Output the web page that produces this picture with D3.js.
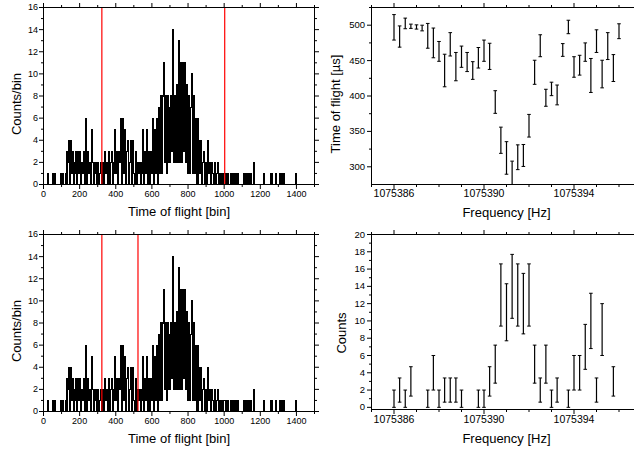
<!DOCTYPE html>
<html>
<head>
<meta charset="utf-8">
<script src="https://cdn.jsdelivr.net/npm/d3@7"></script>
<style>
body { margin: 0; background: #fff; }
svg { display: block; font-family: "Liberation Sans", Arial, sans-serif; }
</style>
</head>
<body>
<div id="chart"></div>
<script>
// ---- histogram (time of flight, counts per bin, 5-bin groups from 0 to 1500)
const binWidth = 5;
const histCounts = [
  0,0,0,0,0,1,0,0,0,0,1,0,1,0,0,0,0,0,0,1,
  0,1,0,0,1,3,0,2,4,0,4,1,3,0,2,1,3,0,3,1,
  3,0,2,1,3,0,6,2,0,3,1,2,0,5,2,0,2,1,2,0,
  2,0,1,2,0,2,1,0,3,1,2,0,3,0,2,3,0,2,1,5,
  1,3,0,3,2,6,0,3,6,1,5,0,3,4,0,2,4,0,3,4,
  1,0,3,0,2,1,2,0,2,1,5,0,3,1,5,0,3,0,3,1,
  1,6,0,5,1,6,0,7,1,6,8,1,8,11,2,8,1,8,2,7,
  2,8,3,14,2,8,2,9,2,8,13,2,11,2,11,3,11,2,9,2,
  1,8,1,7,10,1,8,1,6,0,6,0,4,1,4,0,2,3,0,2,
  2,0,4,1,2,0,2,1,0,2,1,0,1,2,0,1,0,1,0,1,
  1,0,1,0,1,0,0,1,0,1,0,1,0,1,0,1,0,0,0,0,
  0,1,0,1,0,1,0,1,0,1,0,0,0,2,0,0,0,0,0,0,
  0,0,0,0,1,0,0,0,0,0,0,1,0,1,0,0,0,1,0,0,
  0,1,0,0,1,0,1,0,0,0,0,0,0,0,0,0,0,0,0,1,
  0,0,0,0,0,0,0,0,0,0,0,0,0,0,0,0,0,0,0,0
];
const gatesTop = [323, 1003];
const gatesBottom = [323, 523];
const histXTicks = [0, 200, 400, 600, 800, 1000, 1200, 1400];
const histXMinor = [100, 300, 500, 700, 900, 1100, 1300, 1500];
const histYTicks = [0, 2, 4, 6, 8, 10, 12, 14, 16];
const histYMinor = [1, 3, 5, 7, 9, 11, 13, 15];

// ---- frequency scan
const freqs = [
  1075386, 1075386.25, 1075386.5, 1075386.75, 1075387, 1075387.25, 1075387.5, 1075387.75,
  1075388, 1075388.25, 1075388.5, 1075388.75, 1075389, 1075389.25, 1075389.5, 1075389.75,
  1075390, 1075390.25, 1075390.5, 1075390.75, 1075391, 1075391.25, 1075391.5, 1075391.75,
  1075392, 1075392.25, 1075392.5, 1075392.75, 1075393, 1075393.25, 1075393.5, 1075393.75,
  1075394, 1075394.25, 1075394.5, 1075394.75, 1075395, 1075395.25, 1075395.5, 1075395.75,
  1075396
];
const tofMean = [
  497, 484, 502.5, 498.5, 497.5, 496, 485, 475, 463, 436, 473, 441.5, 455.5, 448, 436, 454,
  464, 456, 391.5, 337.5, 312.5, 291, 313.5, 316, 358, 433.5, 471, 397.5, 410, 401.5, 465, 497.5,
  441, 443.5, 462, 429, 477.5, 431, 470.5, 439.5, 491.5
];
const tofErr = [
  18, 15, 7.5, 3, 3, 4, 17.5, 21, 14, 23, 16.5, 20, 15, 13.5, 12.5, 14.5,
  15, 18.5, 16, 18.5, 23, 17, 17.5, 15.5, 16, 17, 15.5, 12, 9.5, 14, 9, 9.5,
  14.5, 14, 13, 24, 16, 19.5, 19, 19, 10.5
];
const counts = [
  1, 2, 1, 3, null, null, 1, 4, 1, 2, 2, 2, 1, null, null, 1,
  1, 3, 5, 13, 11, 14, 13, 12, 13, 5, 2, 5, 1, 2, null, 1,
  4, 4, 7, 10, 2, 9, null, 3, null
];
const countErr = [
  1, 1.4, 1, 1.7, null, null, 1, 2, 1, 1.4, 1.4, 1.4, 1, null, null, 1,
  1, 1.7, 2.2, 3.6, 3.3, 3.7, 3.6, 3.5, 3.6, 2.2, 1.4, 2.2, 1, 1.4, null, 1,
  2, 2, 2.6, 3.2, 1.4, 3, null, 1.7, null
];
const freqTicks = [1075386, 1075390, 1075394];
const freqMinor = [1075385, 1075387, 1075388, 1075389, 1075391, 1075392, 1075393, 1075395, 1075396, 1075397];
const tofTicks = [300, 350, 400, 450, 500];
const tofMinor = [325, 375, 425, 475, 525];
const countTicks = [0, 2, 4, 6, 8, 10, 12, 14, 16, 18, 20];
const countMinor = [1, 3, 5, 7, 9, 11, 13, 15, 17, 19];

const svg = d3.select("#chart").append("svg")
  .attr("width", 634)
  .attr("height", 451);

let clipId = 0;

function panel(p) {
  const x = d3.scaleLinear().domain(p.xDomain).range([p.left, p.right]);
  const y = d3.scaleLinear().domain(p.yDomain).range([p.bottom, p.top]);
  const g = svg.append("g");

  const id = "clip" + (clipId++);
  g.append("clipPath").attr("id", id).append("rect")
    .attr("x", p.left).attr("y", p.top)
    .attr("width", p.right - p.left + 1).attr("height", p.bottom - p.top + 1);

  const marks = g.append("g")
    .attr("clip-path", `url(#${id})`)
    .append("g").attr("transform", "translate(0.5,0.5)");

  p.draw(marks, x, y);

  // frame
  g.append("rect")
    .attr("x", p.left + 0.5).attr("y", p.top + 0.5)
    .attr("width", p.right - p.left).attr("height", p.bottom - p.top)
    .attr("fill", "none").attr("stroke", "#000").attr("stroke-width", 1);

  const styleAxis = (sel, size) => {
    sel.select(".domain").remove();
    sel.selectAll("line").attr("stroke", "#000");
    sel.selectAll("text").attr("fill", "#000").style("font-size", size + "px");
  };

  // bottom
  g.append("g").attr("transform", `translate(0,${p.bottom + 1})`)
    .call(d3.axisBottom(x).tickValues(p.xTicks).tickSize(4).tickPadding(p.xPad).tickFormat(d3.format("d")))
    .call(s => styleAxis(s, p.xFont));
  g.append("g").attr("transform", `translate(0,${p.bottom + 1})`)
    .call(d3.axisBottom(x).tickValues(p.xMinor).tickSize(2).tickFormat(""))
    .call(s => styleAxis(s, p.xFont));
  // top
  g.append("g").attr("transform", `translate(0,${p.top})`)
    .call(d3.axisTop(x).tickValues(p.xTicks).tickSize(4).tickFormat(""))
    .call(s => styleAxis(s, p.xFont));
  g.append("g").attr("transform", `translate(0,${p.top})`)
    .call(d3.axisTop(x).tickValues(p.xMinor).tickSize(2).tickFormat(""))
    .call(s => styleAxis(s, p.xFont));
  // left
  g.append("g").attr("transform", `translate(${p.left},0)`)
    .call(d3.axisLeft(y).tickValues(p.yTicks).tickSize(4).tickPadding(p.yPad).tickFormat(d3.format("d")))
    .call(s => styleAxis(s, p.yFont));
  g.append("g").attr("transform", `translate(${p.left},0)`)
    .call(d3.axisLeft(y).tickValues(p.yMinor).tickSize(2).tickFormat(""))
    .call(s => styleAxis(s, p.yFont));
  // right
  g.append("g").attr("transform", `translate(${p.right + 1},0)`)
    .call(d3.axisRight(y).tickValues(p.yTicks).tickSize(4).tickFormat(""))
    .call(s => styleAxis(s, p.yFont));
  g.append("g").attr("transform", `translate(${p.right + 1},0)`)
    .call(d3.axisRight(y).tickValues(p.yMinor).tickSize(2).tickFormat(""))
    .call(s => styleAxis(s, p.yFont));

  // titles
  g.append("text")
    .attr("x", (p.left + p.right) / 2 + 0.5).attr("y", p.xTitleY)
    .attr("text-anchor", "middle").style("font-size", "13px")
    .text(p.xTitle);
  g.append("text")
    .attr("transform", `translate(${p.yTitleX},${p.yTitleY}) rotate(-90)`)
    .attr("text-anchor", "middle").style("font-size", "13px")
    .text(p.yTitle);
}

function drawHist(gates) {
  return (g, x, y) => {
    const pts = histCounts.map((c, i) => [i * binWidth, c]);
    pts.push([histCounts.length * binWidth, histCounts[histCounts.length - 1]]);
    const line = d3.line().x(d => x(d[0])).y(d => y(d[1])).curve(d3.curveStepAfter);
    g.append("path").attr("d", line(pts))
      .attr("fill", "none").attr("stroke", "#000").attr("stroke-width", 1.1)
      .attr("shape-rendering", "crispEdges");
    g.selectAll(".gate").data(gates).enter().append("line")
      .attr("x1", d => x(d)).attr("x2", d => x(d))
      .attr("y1", y.range()[0]).attr("y2", y.range()[1])
      .attr("stroke", "#ff0000").attr("stroke-width", 1.2);
  };
}

function drawErr(means, errs) {
  return (g, x, y) => {
    const data = freqs.map((f, i) => ({ f, m: means[i], e: errs[i] })).filter(d => d.m != null);
    const cap = 1.8;
    const bars = g.selectAll(".eb").data(data).enter().append("g");
    bars.append("line")
      .attr("x1", d => x(d.f)).attr("x2", d => x(d.f))
      .attr("y1", d => y(d.m - d.e)).attr("y2", d => y(d.m + d.e))
      .attr("stroke", "#000").attr("stroke-width", 1.2);
    bars.append("line")
      .attr("x1", d => x(d.f) - cap).attr("x2", d => x(d.f) + cap)
      .attr("y1", d => y(d.m + d.e)).attr("y2", d => y(d.m + d.e))
      .attr("stroke", "#000").attr("stroke-width", 1);
    bars.append("line")
      .attr("x1", d => x(d.f) - cap).attr("x2", d => x(d.f) + cap)
      .attr("y1", d => y(d.m - d.e)).attr("y2", d => y(d.m - d.e))
      .attr("stroke", "#000").attr("stroke-width", 1);
  };
}

const histBase = {
  xDomain: [0, 1500], yDomain: [0, 16], left: 43, right: 314,
  xTicks: histXTicks, xMinor: histXMinor, yTicks: histYTicks, yMinor: histYMinor,
  xFont: 9, yFont: 9, xPad: 2, yPad: 1,
  xTitle: "Time of flight [bin]", yTitle: "Counts/bin", yTitleX: 21
};

panel(Object.assign({}, histBase, {
  top: 7, bottom: 184, xTitleY: 216, yTitleY: 104, draw: drawHist(gatesTop)
}));
panel(Object.assign({}, histBase, {
  top: 234, bottom: 411, xTitleY: 443, yTitleY: 331, draw: drawHist(gatesBottom)
}));

panel({
  xDomain: [1075385, 1075397], yDomain: [275, 525], left: 371, right: 641, top: 7, bottom: 184,
  xTicks: freqTicks, xMinor: freqMinor, yTicks: tofTicks, yMinor: tofMinor,
  xFont: 10.5, yFont: 9.5, xPad: 1, yPad: 2,
  xTitle: "Frequency [Hz]", yTitle: "Time of flight [\u00b5s]", xTitleY: 216.5,
  yTitleX: 339.5, yTitleY: 104, draw: drawErr(tofMean, tofErr)
});
panel({
  xDomain: [1075385, 1075397], yDomain: [-0.25, 20], left: 371, right: 641, top: 234, bottom: 409,
  xTicks: freqTicks, xMinor: freqMinor, yTicks: countTicks, yMinor: countMinor,
  xFont: 10.5, yFont: 9.5, xPad: 2, yPad: 2,
  xTitle: "Frequency [Hz]", yTitle: "Counts", xTitleY: 443,
  yTitleX: 346, yTitleY: 333, draw: drawErr(counts, countErr)
});
</script>
</body>
</html>
